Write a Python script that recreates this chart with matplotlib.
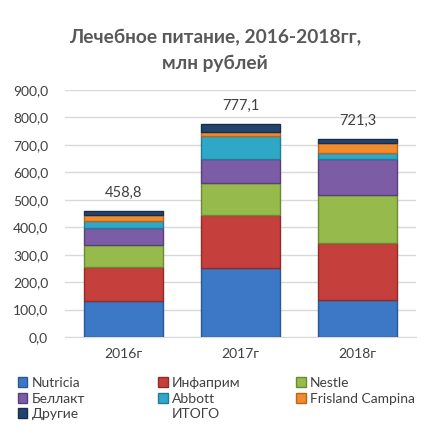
import numpy as np
import matplotlib.pyplot as plt
from matplotlib.patches import Patch

plt.rcParams['font.family'] = ['Lato', 'DejaVu Sans']

years = ['2016г', '2017г', '2018г']
nutricia = [132.0, 252.6, 135.0]
infaprim = [124.0, 192.0, 206.0]
nestle = [79.0, 118.0, 176.0]
bellakt = [61.0, 86.0, 130.0]
abbott = [27.0, 85.0, 24.0]
frisland = [22.0, 14.5, 36.0]
drugie = [13.8, 29.0, 14.3]
itogo = [458.8, 777.1, 721.3]

names = ['Nutricia', 'Инфаприм', 'Nestle', 'Беллакт', 'Abbott', 'Frisland Campina', 'Другие']
series = [nutricia, infaprim, nestle, bellakt, abbott, frisland, drugie]
colors = ['#3D78C6', '#C53F3C', '#96BA4C', '#7B5CA5', '#2FA8C8', '#F28A2E', '#24446E']
edges = ['#2A5894', '#8E2C2A', '#6C8A36', '#57407A', '#217C96', '#B9661F', '#172E4C']

fig = plt.figure(figsize=(4.32, 4.34), dpi=100)
ax = fig.add_axes([0.150, 0.2235, 0.813, 0.569])

x = np.arange(len(years))
bottom = np.zeros(len(years))
handles = []
for name, vals, c, ec in zip(names, series, colors, edges):
    ax.bar(x, vals, width=0.675, bottom=bottom, color=c, edgecolor=ec, linewidth=1.0, zorder=3)
    bottom += np.array(vals)
    handles.append(Patch(facecolor=c, edgecolor=ec, label=name))

for xi, t in zip(x, itogo):
    ax.text(xi, t + 66, f'{t:.1f}'.replace('.', ','), ha='center', va='center',
            fontsize=10.5, color='#404040')

ax.set_ylim(0, 900)
ax.set_xlim(-0.5, 2.5)
ax.set_yticks(np.arange(0, 901, 100))
ax.set_yticklabels([f'{v:.1f}'.replace('.', ',') for v in np.arange(0, 901, 100)])
ax.set_xticks(x)
ax.set_xticklabels(years)
ax.tick_params(axis='both', length=0, labelsize=10, colors='#404040')
ax.tick_params(axis='y', pad=12)
ax.tick_params(axis='x', pad=8)
ax.grid(axis='y', color='#D9D9D9', linewidth=1, zorder=0)
for s in ['left', 'right', 'top']:
    ax.spines[s].set_visible(False)
ax.spines['bottom'].set_color('#D9D9D9')

fig.text(0.498, 0.912, 'Лечебное питание, 2016-2018гг,', ha='center', va='center',
         fontsize=13.8, fontweight='bold', color='#595959')
fig.text(0.498, 0.855, 'млн рублей', ha='center', va='center',
         fontsize=13.8, fontweight='bold', color='#595959')

# legend laid out as three separate columns, row-wise order like Excel
itogo_h = Patch(facecolor='none', edgecolor='none', label='ИТОГО')
cols = [[handles[0], handles[3], handles[6]],
        [handles[1], handles[4], itogo_h],
        [handles[2], handles[5]]]
col_x = [0.025, 0.350, 0.669]
for hs, cx in zip(cols, col_x):
    leg = fig.legend(handles=hs, loc='upper left', bbox_to_anchor=(cx, 0.147),
                     frameon=False, fontsize=10, handlelength=0.7, handleheight=0.7,
                     handletextpad=0.3, labelspacing=0.25, borderpad=0)
    for t in leg.get_texts():
        t.set_color('#404040')

fig.savefig('out.png', dpi=100)
